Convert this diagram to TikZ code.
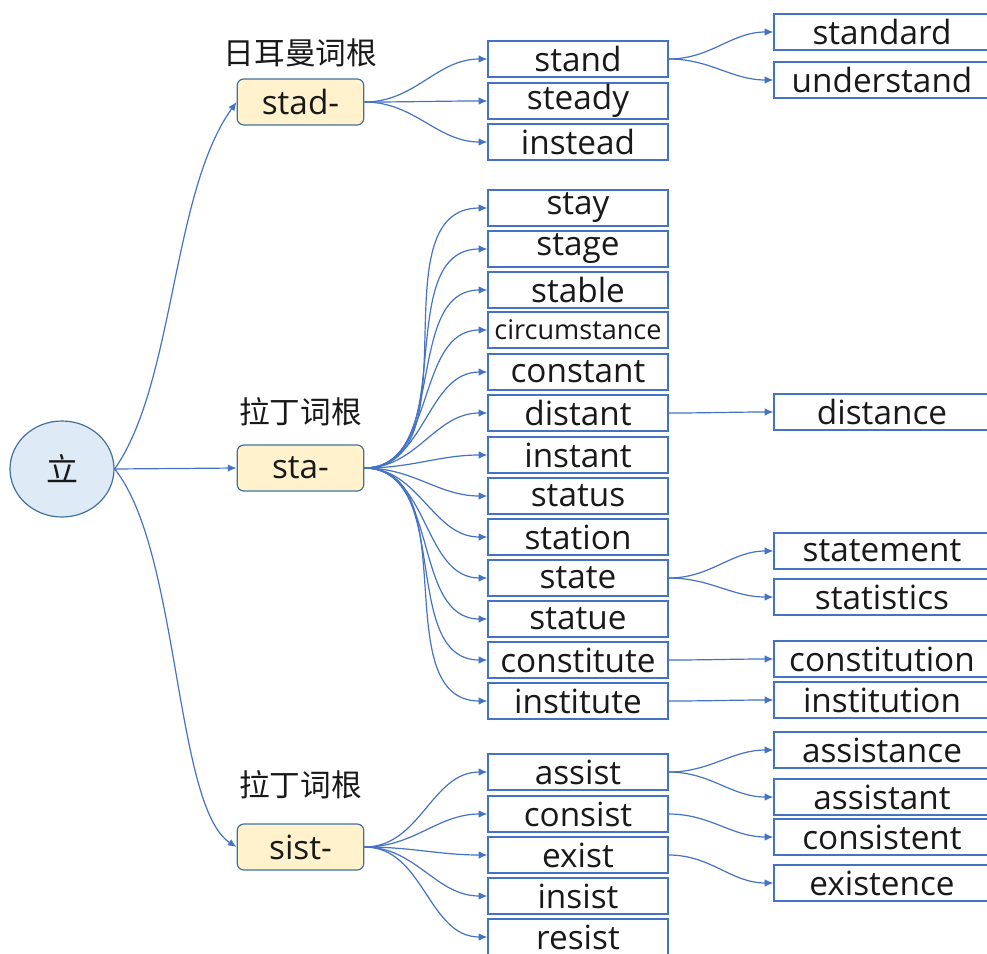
\documentclass[tikz,border=0pt]{standalone}
\usepackage{fontspec}
\setmainfont{Open Sans}
\newfontfamily\cjk{Noto Sans CJK SC}
\usepackage{xcolor}
\usetikzlibrary{arrows.meta,shapes.geometric}
\definecolor{lineblue}{HTML}{4472C4}
\definecolor{rootfill}{HTML}{FFF2CC}
\definecolor{hubfill}{HTML}{DEEBF7}
\definecolor{hubline}{HTML}{41719C}

\begin{document}
\begin{tikzpicture}[
    x=0.75pt, y=-0.75pt,
    font=\fontsize{25}{27}\selectfont, text=black!90,
    word/.style={draw=lineblue, line width=0.9pt, fill=white, inner sep=0pt,
                 minimum width=135pt, minimum height=27pt},
    deriv/.style={word, minimum width=162pt},
    rootbox/.style={draw=hubline, line width=0.9pt, fill=rootfill, rounded corners=5pt,
                 inner sep=0pt, minimum width=95pt, minimum height=34.5pt},
    hub/.style={ellipse, draw=hubline, line width=0.9pt, fill=hubfill, inner sep=0pt,
                 minimum width=78pt, minimum height=72pt, font=\cjk\fontsize{24}{26}\selectfont},
    tag/.style={font=\cjk\fontsize{23}{25}\selectfont},
    arr/.style={-{Latex[length=6.5pt,width=5.5pt]}, draw=lineblue, line width=0.9pt}]
    \useasboundingbox (0,0) rectangle (987,953);
    \clip (0,0) rectangle (987,953);
    % centre and roots
    \node[hub] (li) at (62,469) {立};
    \node[rootbox] (stad) at (300.5,102) {stad-};
    \node[rootbox] (sta) at (300.5,468) {sta-};
    \node[rootbox] (sist) at (300.5,847) {sist-};
    \node[tag] (tagstad) at (300.5,53) {日耳曼词根};
    \node[tag] (tagsta) at (300.5,412) {拉丁词根};
    \node[tag] (tagsist) at (300.5,785) {拉丁词根};
    \draw[arr] (li.east) .. controls +(60,-85) and +(-65,90) .. (stad.west);
    \draw[arr] (li.east) -- (sta.west);
    \draw[arr] (li.east) .. controls +(65,80) and +(-62,-40) .. (sist.west);
    % words from stad-
    \node[word] (stand) at (578,59) {stand};
    \node[word] (steady) at (578,101) {steady};
    \node[word] (instead) at (578,142) {instead};
    \foreach \w in {stand,steady,instead}
      \draw[arr] (stad.east) to[out=0,in=180] (\w.west);
    % words from sta-
    \node[word] (stay) at (578,208) {stay};
    \node[word] (stage) at (578,249) {stage};
    \node[word] (stable) at (578,290) {stable};
    \node[word, font=\fontsize{20.3}{22}\selectfont] (circumstance) at (578,330) {circumstance};
    \node[word] (constant) at (578,372) {constant};
    \node[word] (distant) at (578,413) {distant};
    \node[word] (instant) at (578,455) {instant};
    \node[word] (status) at (578,496) {status};
    \node[word] (station) at (578,537) {station};
    \node[word] (state) at (578,578) {state};
    \node[word] (statue) at (578,619) {statue};
    \node[word] (constitute) at (578,660) {constitute};
    \node[word] (institute) at (578,701) {institute};
    \foreach \w in {stay,stage,stable,circumstance,constant,distant,instant,
                    status,station,state,statue,constitute,institute}
      \draw[arr] (sta.east) to[out=0,in=180] (\w.west);
    % words from sist-
    \node[word] (assist) at (578,772) {assist};
    \node[word] (consist) at (578,814) {consist};
    \node[word] (exist) at (578,855) {exist};
    \node[word] (insist) at (578,896) {insist};
    \node[word] (resist) at (578,937) {resist};
    \foreach \w in {assist,consist,exist,insist,resist}
      \draw[arr] (sist.east) to[out=0,in=180] (\w.west);
    % derived words
    \node[deriv] (standard) at (882,32) {standard};
    \node[deriv] (understand) at (882,80) {understand};
    \node[deriv] (distance) at (882,412) {distance};
    \node[deriv] (statement) at (882,551) {statement};
    \node[deriv] (statistics) at (882,597) {statistics};
    \node[deriv] (constitution) at (882,659) {constitution};
    \node[deriv] (institution) at (882,700) {institution};
    \node[deriv] (assistance) at (882,750) {assistance};
    \node[deriv] (assistant) at (882,797) {assistant};
    \node[deriv] (consistent) at (882,837) {consistent};
    \node[deriv] (existence) at (882,883) {existence};
    \foreach \a/\b in {stand/standard,stand/understand,distant/distance,
                       state/statement,state/statistics,constitute/constitution,
                       institute/institution,assist/assistance,assist/assistant,
                       consist/consistent,exist/existence}
      \draw[arr] (\a.east) to[out=0,in=180] (\b.west);
\end{tikzpicture}
\end{document}
